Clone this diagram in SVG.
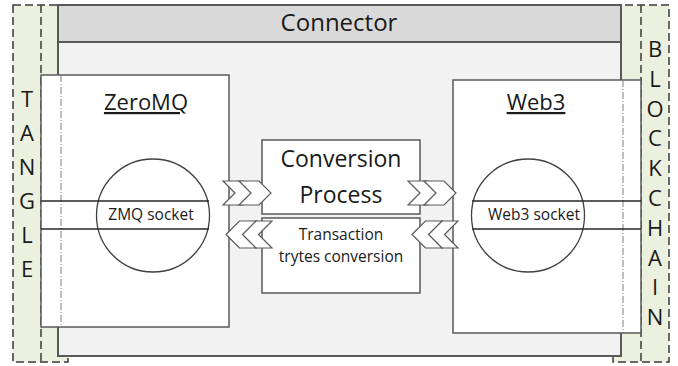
<svg xmlns="http://www.w3.org/2000/svg" width="678" height="366" viewBox="0 0 678 366">
<style>
.t{font-family:"Open Sans","Liberation Sans",sans-serif;fill:#1a1a1a;text-anchor:middle}
.dash{fill:none;stroke:#3a3a3a;stroke-width:1.5;stroke-dasharray:8,4}
.box{fill:#fff;stroke:#595959;stroke-width:1.5}
.dd{fill:none;stroke:#7f7f7f;stroke-width:1;stroke-dasharray:7,2,1,2}
.chev{fill:#fff;stroke:#595959;stroke-width:1.2;stroke-linejoin:miter}
.ln{stroke:#262626;stroke-width:1.3;fill:none}
.circ{fill:none;stroke:#404040;stroke-width:1.3}
</style>
<rect width="678" height="366" fill="#fff"/>
<g id="tangle">
<rect x="13" y="5" width="55" height="357" fill="#ebf1de"/>
<rect x="13" y="5" width="55" height="357" class="dash"/>
<line x1="41" y1="5" x2="41" y2="362" class="dash"/>
<g class="t" font-size="22">
<text x="27" y="107">T</text><text x="27" y="141">A</text><text x="27" y="175">N</text><text x="27" y="209">G</text><text x="27" y="243">L</text><text x="27" y="277">E</text>
</g>
</g>
<g id="blockchain">
<rect x="613" y="5" width="56" height="357" fill="#ebf1de"/>
<rect x="613" y="5" width="56" height="357" class="dash"/>
<line x1="641" y1="5" x2="641" y2="362" class="dash"/>
<g class="t" font-size="22">
<text x="655" y="57">B</text><text x="655" y="87">L</text><text x="655" y="117">O</text><text x="655" y="146">C</text><text x="655" y="176">K</text><text x="655" y="206">C</text><text x="655" y="236">H</text><text x="655" y="266">A</text><text x="655" y="295">I</text><text x="655" y="325">N</text>
</g>
</g>
<g id="connector">
<rect x="58" y="5" width="563" height="351" fill="#f2f2f2" stroke="#595959" stroke-width="2"/>
<rect x="58" y="5" width="563" height="37" fill="#d9d9d9" stroke="#595959" stroke-width="2"/>
<text class="t" x="339" y="31" font-size="24">Connector</text>
</g>
<g id="zeromq">
<rect x="41" y="75" width="188" height="252" class="box"/>
<line x1="61" y1="75" x2="61" y2="327" class="dd"/>
<text class="t" x="146" y="110" font-size="22" text-decoration="underline">ZeroMQ</text>
<circle cx="153" cy="215.5" r="56.5" class="circ"/>
<line x1="41" y1="201" x2="209" y2="201" class="ln"/>
<line x1="41" y1="229" x2="209" y2="229" class="ln"/>
<text class="t" x="151" y="220" font-size="15.5">ZMQ socket</text>
</g>
<g id="web3">
<rect x="453" y="80" width="188" height="253" class="box"/>
<line x1="623" y1="80" x2="623" y2="333" class="dd"/>
<text class="t" x="536" y="110" font-size="22" text-decoration="underline">Web3</text>
<circle cx="528" cy="215.5" r="56.5" class="circ"/>
<line x1="472" y1="201" x2="641" y2="201" class="ln"/>
<line x1="472" y1="229" x2="641" y2="229" class="ln"/>
<text class="t" x="534" y="220" font-size="15.5">Web3 socket</text>
</g>
<g id="conversion">
<rect x="262" y="140" width="158" height="74" class="box"/>
<rect x="262" y="218" width="158" height="75" class="box"/>
<text class="t" x="341" y="167" font-size="23">Conversion</text>
<text class="t" x="341" y="203" font-size="23">Process</text>
<text class="t" x="341" y="240" font-size="15.5">Transaction</text>
<text class="t" x="341" y="262" font-size="15.5">trytes conversion</text>
</g>
<g id="connectors">
<polygon class="chev" points="223,181 243,181 255,193 243,205 223,205 235,193"/>
<polygon class="chev" points="239,181 259,181 271,193 259,205 239,205 251,193"/>
<polygon class="chev" points="408,181 428,181 440,193 428,205 408,205 420,193"/>
<polygon class="chev" points="424,181 444,181 456,193 444,205 424,205 436,193"/>
<polygon class="chev" points="242,234.5 255.5,221 272,221 258.5,234.5 272,248 255.5,248"/>
<polygon class="chev" points="226,234.5 239.5,221 256,221 242.5,234.5 256,248 239.5,248"/>
<polygon class="chev" points="428,234.5 441.5,221 458,221 444.5,234.5 458,248 441.5,248"/>
<polygon class="chev" points="412,234.5 425.5,221 442,221 428.5,234.5 442,248 425.5,248"/>
</g>
</svg>
